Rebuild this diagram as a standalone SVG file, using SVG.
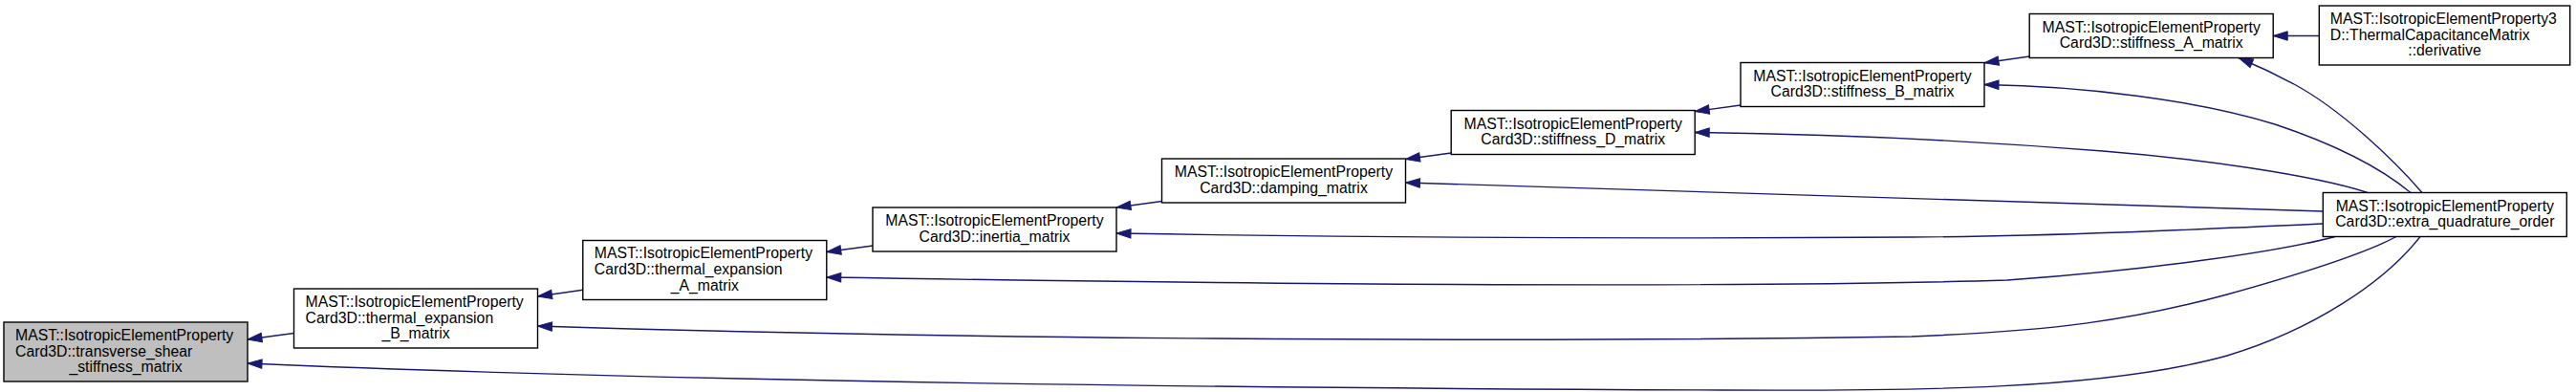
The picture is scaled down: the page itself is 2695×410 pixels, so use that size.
<svg xmlns="http://www.w3.org/2000/svg" width="2695" height="410" viewBox="0 0 2695 410">
<style>
.node rect{fill:#ffffff;stroke:#000000;stroke-width:1.4}
#n1 rect{fill:#bfbfbf}
text{font-family:"Liberation Sans",Arial,Helvetica,sans-serif;font-size:15.8px;fill:#000000}
.c{text-anchor:middle}
#edges path{fill:none;stroke:#191970;stroke-width:1.4;marker-end:url(#arr)}
</style>
<defs>
<marker id="arr" markerUnits="userSpaceOnUse" markerWidth="16" markerHeight="11" refX="15" refY="5" orient="auto" overflow="visible">
<path d="M0,0.3 L15,5 L0,9.7 z" fill="#191970" stroke="#191970" stroke-width="1"/>
</marker>
</defs>
<rect width="2695" height="410" fill="#ffffff"/>
<g id="edges">
<path d="M307.5,348.5 L259,355"/>
<path d="M609.8,303.3 L562.5,310"/>
<path d="M913,257 L864.8,263.5"/>
<path d="M1215.5,210.5 L1168,217"/>
<path d="M1518.2,160 L1470.5,166.5"/>
<path d="M1821,110 L1773.2,116.5"/>
<path d="M2123.2,59 L2076,65.8"/>
<path d="M2426.3,37.5 L2378.2,37.5"/>
<path d="M2534,201.5 C2505,168 2450,115 2400,88 C2385,80 2372,73 2342,60.5"/>
<path d="M2522,201.5 C2490,175 2440,150 2380,130 C2300,105 2180,90 2076,88.5"/>
<path d="M2477,201.5 C2420,183 2300,166 2200,158 C2050,146 1900,140 1773.2,138.5"/>
<path d="M2430.3,221 L1470.5,191"/>
<path d="M2430.3,234 C2300,240 2150,247 2000,248 C1700,250 1400,248 1168,244"/>
<path d="M2443,247.5 C2380,264 2250,282 2100,293 C1800,302 1300,297 864.8,290"/>
<path d="M2507,247.5 C2480,262 2420,283 2330,308 C2230,335 2150,346 2000,352 C1500,360 900,352 562.5,341"/>
<path d="M2532,247.5 C2495,295 2420,345 2330,372 C2200,408 2000,409 1800,408 C1300,406 700,399 259,380"/>
</g>
<g id="n1" class="node">
<rect x="4" y="337" width="255" height="62"/>
<text x="16" y="355.8">MAST::IsotropicElementProperty</text>
<text x="16" y="372.5">Card3D::transverse_shear</text>
<text class="c" x="131.5" y="389.2">_stiffness_matrix</text>
</g>
<g id="n2" class="node">
<rect x="307.5" y="302" width="255" height="62"/>
<text x="319.5" y="320.8">MAST::IsotropicElementProperty</text>
<text x="319.5" y="337.5">Card3D::thermal_expansion</text>
<text class="c" x="435" y="354.2">_B_matrix</text>
</g>
<g id="n3" class="node">
<rect x="609.8" y="251.5" width="255" height="62"/>
<text x="621.8" y="270.3">MAST::IsotropicElementProperty</text>
<text x="621.8" y="287">Card3D::thermal_expansion</text>
<text class="c" x="737.3" y="303.7">_A_matrix</text>
</g>
<g id="n4" class="node">
<rect x="913" y="217" width="255" height="46"/>
<text class="c" x="1040.5" y="236.15">MAST::IsotropicElementProperty</text>
<text class="c" x="1040.5" y="252.85">Card3D::inertia_matrix</text>
</g>
<g id="n5" class="node">
<rect x="1215.5" y="166" width="255" height="46"/>
<text class="c" x="1343" y="185.15">MAST::IsotropicElementProperty</text>
<text class="c" x="1343" y="201.85">Card3D::damping_matrix</text>
</g>
<g id="n6" class="node">
<rect x="1518.2" y="115.5" width="255" height="46"/>
<text class="c" x="1645.7" y="134.65">MAST::IsotropicElementProperty</text>
<text class="c" x="1645.7" y="151.35">Card3D::stiffness_D_matrix</text>
</g>
<g id="n7" class="node">
<rect x="1821" y="65.5" width="255" height="46"/>
<text class="c" x="1948.5" y="84.65">MAST::IsotropicElementProperty</text>
<text class="c" x="1948.5" y="101.35">Card3D::stiffness_B_matrix</text>
</g>
<g id="n8" class="node">
<rect x="2123.2" y="14.5" width="255" height="46"/>
<text class="c" x="2250.7" y="33.65">MAST::IsotropicElementProperty</text>
<text class="c" x="2250.7" y="50.35">Card3D::stiffness_A_matrix</text>
</g>
<g id="n9" class="node">
<rect x="2426.3" y="6" width="262.4" height="62"/>
<text x="2437.8" y="24.8">MAST::IsotropicElementProperty3</text>
<text x="2437.8" y="41.5">D::ThermalCapacitanceMatrix</text>
<text class="c" x="2557.5" y="58.2">::derivative</text>
</g>
<g id="n10" class="node">
<rect x="2430.3" y="201.5" width="255" height="46"/>
<text class="c" x="2557.8" y="220.65">MAST::IsotropicElementProperty</text>
<text class="c" x="2557.8" y="237.35">Card3D::extra_quadrature_order</text>
</g>
</svg>
